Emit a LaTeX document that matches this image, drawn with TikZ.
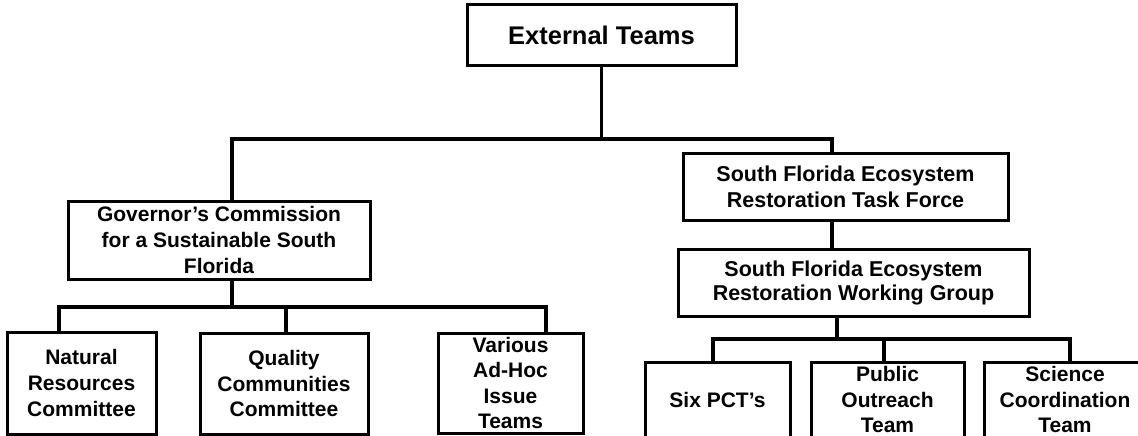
\documentclass[tikz,border=0pt]{standalone}
\usepackage{fontspec}
\setmainfont{Liberation Sans}
\begin{document}
\begin{tikzpicture}[x=1pt,y=-1pt,
  box/.style={draw=black,line width=3pt,fill=white,inner sep=0pt,align=center,
    font=\fontsize{21}{25.6}\selectfont\bfseries},
  conn/.style={draw=black,line width=3.4pt,line join=miter}]
\useasboundingbox (0,0) rectangle (1138,436);
% boxes
\node[box,minimum width=269pt,minimum height=61pt,font=\fontsize{25.5}{30}\selectfont\bfseries] (ext) at (601.5,35.5) {External Teams};
\node[box,minimum width=302pt,minimum height=78pt] (gov) at (219,240) {Governor’s Commission\\for a Sustainable South\\Florida};
\node[box,minimum width=325pt,minimum height=67pt,font=\fontsize{21.5}{26}\selectfont\bfseries] (tf) at (845.5,186.5) {South Florida Ecosystem\\Restoration Task Force};
\node[box,minimum width=351pt,minimum height=67pt,font=\fontsize{21.5}{24}\selectfont\bfseries] (wg) at (853.5,282.5) {South Florida Ecosystem\\Restoration Working Group};
\node[box,minimum width=149pt,minimum height=102pt] (nat) at (81.5,383) {Natural\\Resources\\Committee};
\node[box,minimum width=168pt,minimum height=101pt] (qual) at (284,383.5) {Quality\\Communities\\Committee};
\node[box,minimum width=145pt,minimum height=100pt] (var) at (510.5,383) {Various\\Ad-Hoc\\Issue\\Teams};
\node[box,minimum width=145pt,minimum height=75pt] (six) at (717.5,399.5) {Six PCT’s};
\node[box,minimum width=153pt,minimum height=75pt] (pub) at (887.5,399.5) {Public\\Outreach\\Team};
\node[box,minimum width=162pt,minimum height=75pt] (sci) at (1065,399.5) {Science\\Coordination\\Team};
% junction columns and rows
\path (232,0) coordinate (xg) (832,0) coordinate (xt) (59,0) coordinate (xn)
      (286,0) coordinate (xq) (546,0) coordinate (xv) (713,0) coordinate (xs)
      (884,0) coordinate (xp) (1070,0) coordinate (xc) (837,0) coordinate (xw);
\path (0,139) coordinate (y1) (0,307) coordinate (y2) (0,339) coordinate (y3);
% connectors
\draw[conn] (ext.south) -- (ext.south |- y1);
\draw[conn] (gov.north -| xg) -- (xg |- y1) -- (xt |- y1) -- (tf.north -| xt);
\draw[conn] (tf.south -| xt) -- (wg.north -| xt);
\draw[conn] (gov.south -| xg) -- (xg |- y2);
\draw[conn] (nat.north -| xn) -- (xn |- y2) -- (xv |- y2) -- (var.north -| xv);
\draw[conn] (qual.north -| xq) -- (xq |- y2);
\draw[conn] (wg.south -| xw) -- (xw |- y3);
\draw[conn] (six.north -| xs) -- (xs |- y3) -- (xc |- y3) -- (sci.north -| xc);
\draw[conn] (pub.north -| xp) -- (xp |- y3);
\end{tikzpicture}
\end{document}
